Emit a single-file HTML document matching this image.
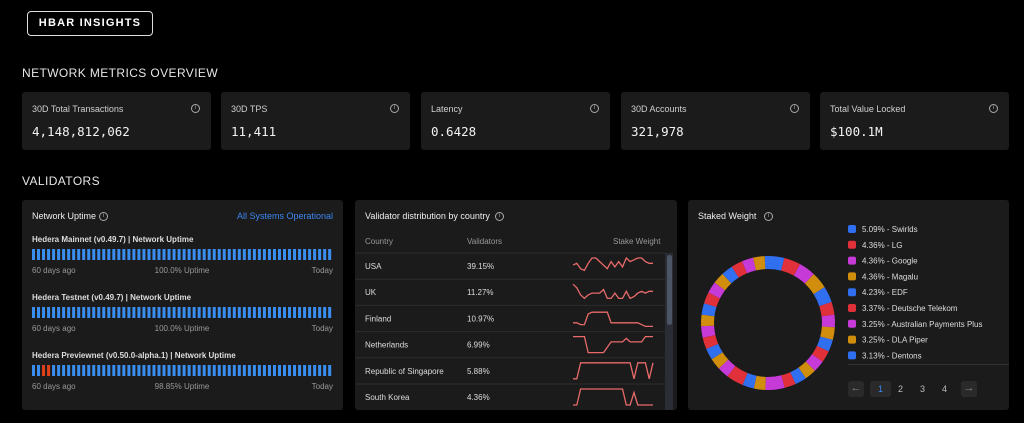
<!DOCTYPE html>
<html><head><meta charset="utf-8"><style>
*{box-sizing:border-box;margin:0;padding:0}
body{width:1024px;height:423px;background:#000;font-family:"Liberation Sans",sans-serif;color:#e8e8e8;position:relative;overflow:hidden}
.abs{position:absolute}
.logo{left:27px;top:11px;width:126px;height:25px;border:1.5px solid #ddd;border-radius:4px;font-weight:bold;font-size:11px;letter-spacing:1.2px;text-align:center;line-height:22px;color:#fff}
.sec{font-size:12px;letter-spacing:.4px;color:#e6e6e6}
.card{top:92px;width:189px;height:58px;background:#1b1b1b;border-radius:3px}
.card .l{position:absolute;left:10px;top:12px;font-size:9px;color:#cfcfcf}
.card .v{position:absolute;left:10px;top:32px;font-size:12.5px;font-family:"DejaVu Sans Mono",monospace;color:#f2f2f2}
.info{position:absolute;width:9px;height:9px;border:1px solid #aaa;border-radius:50%;font-size:6px;line-height:7px;text-align:center;color:#aaa}
.card .info{right:11px;top:12px}
.panel{top:200px;height:210px;background:#1b1b1b;border-radius:3px}
.t{font-size:9px;color:#eee}
.s{font-size:8px;color:#999}
</style></head><body>
<div class="abs logo">HBAR INSIGHTS</div>
<div class="abs sec" style="left:22px;top:66px">NETWORK METRICS OVERVIEW</div>
<div class="abs card" style="left:22px"><div class="l">30D Total Transactions</div><div class="info">i</div><div class="v">4,148,812,062</div></div>
<div class="abs card" style="left:221px"><div class="l">30D TPS</div><div class="info">i</div><div class="v">11,411</div></div>
<div class="abs card" style="left:421px"><div class="l">Latency</div><div class="info">i</div><div class="v">0.6428</div></div>
<div class="abs card" style="left:621px"><div class="l">30D Accounts</div><div class="info">i</div><div class="v">321,978</div></div>
<div class="abs card" style="left:820px"><div class="l">Total Value Locked</div><div class="info">i</div><div class="v">$100.1M</div></div>
<div class="abs sec" style="left:22px;top:174px">VALIDATORS</div>

<div class="abs panel" style="left:22px;width:321px">
 <div class="abs t" style="left:10px;top:11px">Network Uptime</div>
 <div class="info" style="left:77px;top:12px">i</div>
 <div class="abs" style="right:10px;top:11px;font-size:9px;color:#3d86f0">All Systems Operational</div>
 <svg id="up" class="abs" style="left:0;top:0" width="321" height="210"></svg>
</div>

<div class="abs panel" style="left:355px;width:322px">
 <div class="abs t" style="left:10px;top:11px">Validator distribution by country</div>
 <div class="info" style="left:140px;top:12px">i</div>
 <div class="abs s" style="left:10px;top:37px">Country</div>
 <div class="abs s" style="left:112px;top:37px">Validators</div>
 <div class="abs s" style="left:258px;top:37px">Stake Weight</div>
 <svg id="tb" class="abs" style="left:0;top:0" width="322" height="210"></svg>
 <div class="abs" style="left:310px;top:53px;width:8px;height:157px;background:#2a2d33"></div>
 <div class="abs" style="left:312px;top:55px;width:5px;height:70px;background:#4b5565;border-radius:3px"></div>
</div>

<div class="abs panel" style="left:688px;width:321px">
 <div class="abs t" style="left:10px;top:11px">Staked Weight</div>
 <div class="info" style="left:76px;top:12px">i</div>
 <svg id="dn" class="abs" style="left:0;top:0" width="321" height="210"></svg>
 <div class="abs" style="left:160px;top:164px;width:161px;height:1px;background:#333"></div>
 <div class="abs" style="left:160px;top:181px;width:16px;height:16px;background:#2a2a2a;border-radius:3px;color:#888;font-size:11px;text-align:center;line-height:15px">←</div>
 <div class="abs" style="left:182px;top:181px;width:21px;height:16px;background:#2a2a2a;border-radius:3px;color:#3d86f0;font-size:9px;text-align:center;line-height:16px">1</div>
 <div class="abs" style="left:210px;top:181px;font-size:9px;color:#bbb;line-height:16px">2</div>
 <div class="abs" style="left:232px;top:181px;font-size:9px;color:#bbb;line-height:16px">3</div>
 <div class="abs" style="left:254px;top:181px;font-size:9px;color:#bbb;line-height:16px">4</div>
 <div class="abs" style="left:273px;top:181px;width:16px;height:16px;background:#2a2a2a;border-radius:3px;color:#888;font-size:11px;text-align:center;line-height:15px">→</div>
</div>

<script>
const NS="http://www.w3.org/2000/svg";
function mk(p,tag,a){const e=document.createElementNS(NS,tag);for(const k in a)e.setAttribute(k,a[k]);p.appendChild(e);return e;}
// uptime data
const networks=["Hedera Mainnet (v0.49.7) | Network Uptime","Hedera Testnet (v0.49.7) | Network Uptime","Hedera Previewnet (v0.50.0-alpha.1) | Network Uptime"];
const uptimePct=["100.0% Uptime","100.0% Uptime","98.85% Uptime"];
const downDays=[[],[],[2,3]];
const up=document.getElementById('up');
networks.forEach((n,i)=>{
 const y0=34+i*58;
 const t=mk(up,'text',{x:10,y:y0+8,'font-size':8,fill:'#ddd','font-weight':'bold'});t.textContent=n;
 
 
 for(let d=0;d<60;d++){
  const r=mk(up,'rect',{x:10+d*5.02,y:y0+15,width:3,height:11,fill:downDays[i].includes(d)?'#e0401a':'#3a8ef0'});
  
  
 }
 const a=mk(up,'text',{x:10,y:y0+39,'font-size':8,fill:'#999'});a.textContent='60 days ago';
 const b=mk(up,'text',{x:160,y:y0+39,'font-size':8,fill:'#999','text-anchor':'middle'});b.textContent=uptimePct[i];
 const c=mk(up,'text',{x:311,y:y0+39,'font-size':8,fill:'#999','text-anchor':'end'});c.textContent='Today';
});
// table data
const countries=["USA","UK","Finland","Netherlands","Republic of Singapore","South Korea"];
const validators=["39.15%","11.27%","10.97%","6.99%","5.88%","4.36%"];
const sparkUSA=[5,6,3,2,6,9,9,7,5,3,7,4,7,4,9,7,8,9,9,7,6,6];
const sparkUK=[9,7,3,1,3,4,4,4,6,1,1,4,1,1,5,1,2,4,5,4,5,5];
const sparkFI=[2,2,1,1,7,8,8,8,8,8,2,2,2,2,2,2,2,2,1,0,0,0];
const sparkNL=[9,9,9,9,0,0,0,0,0,3,6,6,6,6,8,6,6,6,6,9,9,9];
const sparkSG=[0,0,9,9,9,9,9,9,9,9,9,9,9,9,9,9,0,9,9,9,0,9];
const sparkKR=[0,0,9,9,9,9,9,9,9,9,9,9,9,9,0,0,7,0,0,0,0,0];
const sparks=[sparkUSA,sparkUK,sparkFI,sparkNL,sparkSG,sparkKR];
const tb=document.getElementById('tb');
const rowH=26.2, rowTop=53;
countries.forEach((c,i)=>{
 const y=rowTop+i*rowH;
 mk(tb,'line',{x1:0,x2:310,y1:y,y2:y,stroke:'#2c2c2c','stroke-width':1});
 const a=mk(tb,'text',{x:10,y:y+16,'font-size':8,fill:'#ddd'});a.textContent=c;
 
 
 const b=mk(tb,'text',{x:112,y:y+16,'font-size':8,fill:'#ddd'});b.textContent=validators[i];
 const s=sparks[i];const x0=218,w=80,yTop=y+5,h=16;
 const pts=s.map((v,j)=>(x0+j*w/(s.length-1)).toFixed(1)+','+(yTop+h-v/9*h).toFixed(1)).join(' ');
 const p=mk(tb,'polyline',{points:pts,fill:'none',stroke:'#e86a6a','stroke-width':1.3});
 
 
});
// donut
const sliceVals=[5.09,4.36,4.36,4.36,4.23,3.37,3.25,3.25,3.13,3.1,3.1,3.0,3.0,3.0,5.0,3.0,3.0,4.5,3.0,3.0,3.0,3.0,3.0,3.0,3.0,3.0,3.0,3.0,3.0,3.0,3.0,3.0];
const sliceColors=["#2f6ff0","#e0303a","#c63ad8","#d08e0c"];
const legendLabels=["5.09% - Swirlds","4.36% - LG","4.36% - Google","4.36% - Magalu","4.23% - EDF","3.37% - Deutsche Telekom","3.25% - Australian Payments Plus","3.25% - DLA Piper","3.13% - Dentons"];
const dn=document.getElementById('dn');
const cx=80,cy=123,R=67,r=54,tot=sliceVals.reduce((a,b)=>a+b,0);
let ang=-Math.PI/2-0.05;
sliceVals.forEach((v,i)=>{
 const a2=ang+v/tot*2*Math.PI;
 const P=(rad,a)=>(cx+rad*Math.cos(a)).toFixed(2)+' '+(cy+rad*Math.sin(a)).toFixed(2);
 const d=`M${P(R,ang)} A${R} ${R} 0 0 1 ${P(R,a2)} L${P(r,a2)} A${r} ${r} 0 0 0 ${P(r,ang)}Z`;
 const p=mk(dn,'path',{d,fill:sliceColors[i%4]});
 
 
 ang=a2;
});
legendLabels.forEach((l,i)=>{
 const y=29+i*15.8;
 mk(dn,'rect',{x:160,y:y-4,width:8,height:8,rx:2,fill:sliceColors[i%4]});
 const t=mk(dn,'text',{x:174,y:y+3,'font-size':8,fill:'#ddd'});t.textContent=l;
 
 
});
</script>
</body></html>
